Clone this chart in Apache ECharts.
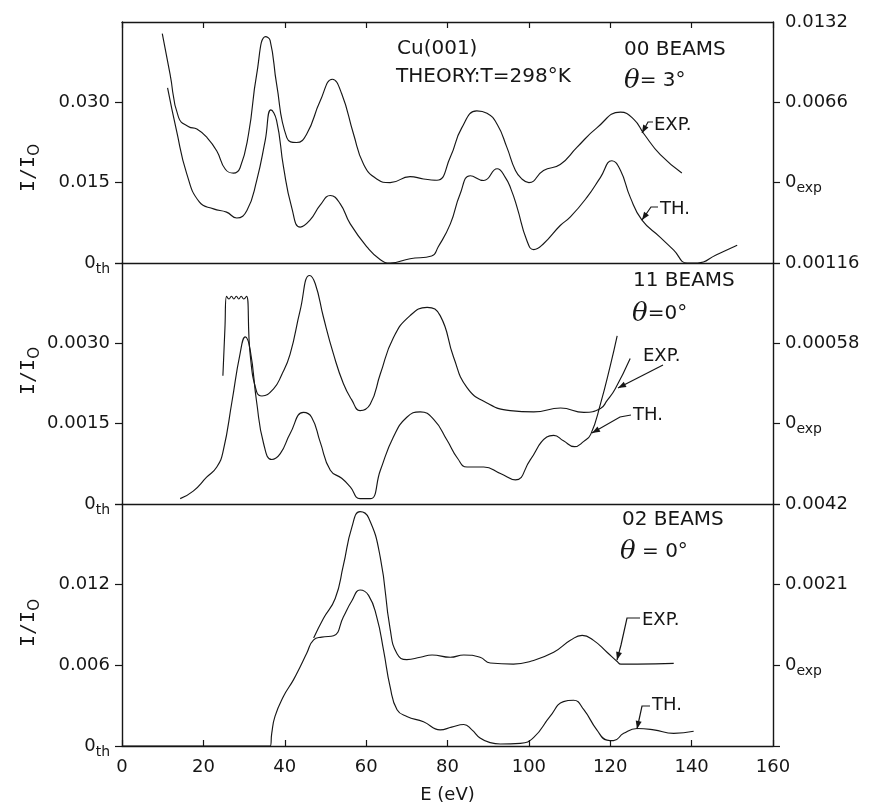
<!DOCTYPE html>
<html><head><meta charset="utf-8">
<script src="https://cdn.jsdelivr.net/npm/echarts@6/dist/echarts.min.js"></script>
<style>html,body{margin:0;padding:0;background:#fff}#c{width:871px;height:808px}</style>
</head><body><div id="c"></div>
<script>
// ---------- DATA ----------
const xTicks = ['0','20','40','60','80','100','120','140','160'];

// 00 beams, theta = 3 deg
const th00E = [11.2,13.4,15.9,19.0,22.5,25.7,28.2,30.7,33.1,35.2,36.6,38.0,39.7,41.7,43.8,46.2,48.7,51.2,53.6,56.1,60.2,63.5,65.9,70.8,76.1,77.7,80.7,83.1,85.6,88.9,92.2,94.2,95.6,97.1,99.5,101.2,103.6,107.7,110.2,114.3,117.6,120.4,122.5,124.9,127.8,132.3,135.6,138.9,141.5,146.0,151.2];
const th00V = [0.0327,0.0247,0.0167,0.0114,0.0101,0.0095,0.0084,0.0098,0.0154,0.0229,0.0286,0.0266,0.0179,0.0104,0.0067,0.0080,0.0108,0.0126,0.0111,0.0073,0.0030,0.0006,0.0000,0.0008,0.0013,0.0030,0.0073,0.0129,0.0163,0.0154,0.0176,0.0160,0.0138,0.0104,0.0042,0.0025,0.0036,0.0070,0.0086,0.0123,0.0160,0.0191,0.0173,0.0123,0.0080,0.0048,0.0024,0.0000,0.0000,0.0015,0.0033];
const exp00E = [9.9,11.8,13.9,16.4,18.4,20.9,23.3,25.4,27.4,29.0,31.1,33.1,35.3,36.4,38.0,40.5,42.9,45.4,48.7,51.7,54.0,56.9,59.4,62.6,65.9,70.8,74.1,77.4,80.7,83.5,87.2,89.7,92.2,94.6,96.7,98.3,100.0,103.6,107.7,111.8,116.7,122.5,125.8,128.3,132.3,137.6];
const exp00V = [0.01224,0.00894,0.00536,0.0046,0.0044,0.0037,0.0026,0.0011,0.00078,0.0012,0.0040,0.0089,0.0120,0.0117,0.0081,0.0037,0.0033,0.0040,0.0067,0.0085,0.0073,0.0040,0.0015,0.0003,0.0000,0.0005,0.0003,0.0002,0.0021,0.0045,0.0059,0.0057,0.0048,0.0029,0.0010,0.0003,0.0000,0.0010,0.0015,0.0029,0.0045,0.0058,0.0052,0.0040,0.0023,0.0008];

// 11 beams, theta = 0 deg
const th11E = [14.3,17.5,20.8,23.3,24.9,27.0,29.0,30.3,31.5,33.1,34.8,36.8,38.9,41.3,44.6,46.6,48.7,51.2,54.0,56.1,58.5,61.0,63.5,66.7,70.0,73.3,76.6,79.9,82.5,84.8,88.9,93.0,96.7,100.3,104.4,106.1,108.5,111.2,113.5,115.2,117.6,120.0,121.7];
const th11V = [0.0001,0.00024,0.00050,0.00069,0.0010,0.0019,0.0028,0.00312,0.00288,0.00190,0.00113,0.00083,0.00094,0.00131,0.00171,0.00162,0.00116,0.00063,0.00048,0.00032,0.0001,0.0001,0.00063,0.00125,0.00162,0.00172,0.00158,0.00119,0.00085,0.00069,0.00069,0.00057,0.00045,0.00082,0.00125,0.00128,0.00118,0.00107,0.00117,0.00130,0.00187,0.00258,0.00314];
const exp11E = [24.8,25.3,25.7,26.3,26.9,27.5,28.1,28.7,29.3,29.9,30.6,31.5,33.1,34.4,37.2,39.2,41.3,43.8,46.1,47.5,49.5,52.0,54.4,56.5,58.5,61.0,63.5,66.7,70.8,75.0,78.2,81.5,84.8,89.7,95.4,101.2,107.8,113.5,117.6,119.2,121.2,124.9];
const exp11V = [0.000346,0.00069,0.00092,0.00090,0.00092,0.00090,0.00092,0.00090,0.00092,0.00090,0.00092,0.00050,0.00023,0.00020,0.00025,0.00035,0.00050,0.00082,0.00107,0.00101,0.00077,0.00050,0.00029,0.00017,0.000094,0.00014,0.00036,0.00062,0.00078,0.00084,0.00078,0.00048,0.00026,0.00015,0.000094,0.000085,0.000113,0.000082,0.00011,0.000166,0.00025,0.00047];

// 02 beams, theta = 0 deg
const th02E = [0,36.4,36.8,37.6,39.7,42.1,43.8,45.4,47.1,49.1,52.0,54.4,56.5,58.5,60.6,62.6,64.3,65.9,67.6,70.0,74.1,78.2,81.0,84.0,86.0,88.0,90.5,93.0,97.9,101.2,105.2,108.5,111.0,113.5,116.7,119.2,120.8,123.3,126.6,130.7,135.6,140.5];
const th02V = [0,0,0.00094,0.0022,0.0037,0.0049,0.0059,0.0069,0.0079,0.0081,0.0082,0.0096,0.0108,0.0116,0.0112,0.0096,0.0071,0.0044,0.0027,0.0022,0.0018,0.0012,0.0014,0.0016,0.0012,0.0006,0.00025,0.00015,0.0002,0.00064,0.0022,0.0033,0.0034,0.0027,0.0012,0.00044,0.0004,0.00094,0.0013,0.0012,0.00094,0.0011];
const exp02E = [47.1,49.5,52.4,54.4,56.5,58.5,60.6,63.5,65.9,67.6,70.0,73.3,76.2,80.7,84.0,88.0,90.5,96.2,100.3,106.1,110.2,113.1,115.9,119.2,121.7,122.6,126.6,135.6];
const exp02V = [0.00071,0.00122,0.00174,0.0026,0.0036,0.0040,0.00384,0.0028,0.00095,0.0003,0.00015,0.00021,0.00027,0.00021,0.00027,0.00021,0.00006,0.00003,0.0001,0.00034,0.00065,0.00078,0.00065,0.00034,0.0001,0.00003,0.00003,0.00005];

// tick labels ('text|subscript')
const thTicks00 = ['0|th','0.015','0.030',''];
const expTicks00 = ['','0|exp','0.0066','0.0132'];
const thTicks11 = ['0|th','0.0015','0.0030',''];
const expTicks11 = ['','0|exp','0.00058','0.00116'];
const thTicks02 = ['0|th','0.006','0.012',''];
const expTicks02 = ['','0|exp','0.0021','0.0042'];

// ---------- CHART ----------
const INK = '#161616';
const FONT = 'DejaVu Sans';
const zip = (a, b) => a.map((x, i) => [x, b[i]]);
const richLbl = {
  a: {fontSize: 18, fontFamily: FONT, color: INK},
  s: {fontSize: 14, fontFamily: FONT, color: INK, verticalAlign: 'bottom', padding: [12, 0, 0, 0]}
};
const fmt = arr => (v, i) => {
  const t = arr[i] || '';
  if (t.indexOf('|') >= 0) { const p = t.split('|'); return '{a|' + p[0] + '}{s|' + p[1] + '}'; }
  return t === '' ? '' : '{a|' + t + '}';
};
const gridL = 122, gridW = 651;
const grids = [
  {left: gridL, width: gridW, top: 22, height: 241},
  {left: gridL, width: gridW, top: 263, height: 241},
  {left: gridL, width: gridW, top: 504, height: 242}
].map(g => Object.assign(g, {containLabel: false, outerBoundsMode: 'none'}));

const axLine = {show: true, onZero: false, lineStyle: {color: INK, width: 1.4}};
function xAx(grid, pos, ticks, labels) {
  return {
    type: 'value', gridIndex: grid, position: pos, min: 0, max: 160, interval: 20,
    axisLine: axLine, splitLine: {show: false},
    axisTick: {show: ticks, inside: true, length: 6, lineStyle: {color: INK, width: 1.2}},
    axisLabel: {show: labels, margin: 12, fontSize: 18, fontFamily: FONT, color: INK,
      formatter: (v, i) => xTicks[i]}
  };
}
const xAxes = [xAx(0, 'bottom', false, false), xAx(0, 'top', true, false), xAx(1, 'bottom', false, false), xAx(2, 'bottom', true, true)];
Object.assign(xAxes[3], {name: 'E (eV)', nameLocation: 'middle', nameGap: 40,
  nameTextStyle: {fontSize: 18, fontFamily: FONT, color: INK}});

function yAx(grid, pos, min, max, interval, labels, tickVals) {
  const tick = {show: true, inside: false, length: 7, lineStyle: {color: INK, width: 1.2}};
  if (tickVals) tick.customValues = tickVals;
  return {
    type: 'value', gridIndex: grid, position: pos, min: min, max: max, interval: interval,
    axisLine: axLine, splitLine: {show: false},
    axisTick: tick,
    axisLabel: {show: true, margin: 12, showMinLabel: true, showMaxLabel: true,
      formatter: fmt(labels), rich: richLbl}
  };
}
const yAxes = [
  yAx(0, 'left', 0, 0.045, 0.015, thTicks00, [0, 0.015, 0.03]),
  yAx(0, 'right', -0.0066, 0.0132, 0.0066, expTicks00, [-0.0066, 0, 0.0066]),
  yAx(1, 'left', 0, 0.0045, 0.0015, thTicks11),
  yAx(1, 'right', -0.00058, 0.00116, 0.00058, expTicks11),
  yAx(2, 'left', 0, 0.018, 0.006, thTicks02),
  yAx(2, 'right', -0.0021, 0.0042, 0.0021, expTicks02)
];

function line(name, xi, yi, E, V) {
  return {name: name, type: 'line', xAxisIndex: xi, yAxisIndex: yi, data: zip(E, V),
    showSymbol: false, smooth: 0.5, clip: true,
    lineStyle: {color: INK, width: 1.15}, silent: true, animation: false};
}
const series = [
  line('00 TH', 0, 0, th00E, th00V),
  line('00 EXP', 0, 1, exp00E, exp00V),
  line('11 TH', 2, 2, th11E, th11V),
  line('11 EXP', 2, 3, exp11E, exp11V),
  line('02 TH', 3, 4, th02E, th02V),
  line('02 EXP', 3, 5, exp02E, exp02V)
];

// ---------- annotations ----------
function txt(x, y, text, size, align, rich) {
  const st = {text: text, x: 0, y: 0, fill: INK, font: size + 'px "' + FONT + '"', align: align || 'left', verticalAlign: 'middle'};
  if (rich) st.rich = rich;
  return {type: 'text', x: x, y: y, style: st, silent: true};
}
function arrow(pts) {
  const n = pts.length, a = pts[n - 2], b = pts[n - 1];
  const ang = Math.atan2(b[1] - a[1], b[0] - a[0]);
  const L = 8, W = 3;
  const bx = b[0] - L * Math.cos(ang), by = b[1] - L * Math.sin(ang);
  const px = -Math.sin(ang) * W, py = Math.cos(ang) * W;
  return [
    {type: 'polyline', shape: {points: pts}, style: {stroke: INK, lineWidth: 1.2, fill: null}, silent: true},
    {type: 'polygon', shape: {points: [b, [bx + px, by + py], [bx - px, by - py]]}, style: {fill: INK}, silent: true}
  ];
}
const thetaRich = {
  t: {fontSize: 26, fontFamily: 'DejaVu Serif', fontStyle: 'italic', color: INK},
  n: {fontSize: 20, fontFamily: FONT, color: INK}
};
const ylabRich = {
  a: {fontSize: 20, fontFamily: 'DejaVu Sans Mono', color: INK},
  s: {fontSize: 15, fontFamily: FONT, color: INK, verticalAlign: 'bottom', padding: [12, 0, 0, 0]}
};
function ylab(y) {
  const t = txt(29, y, '{a|I/I}{s|O}', 20, 'center', ylabRich);
  t.rotation = Math.PI / 2;
  return t;
}
const graphics = [
  txt(397, 49, 'Cu(001)', 20),
  txt(396, 77, 'THEORY:T=298°K', 20),
  txt(624, 50, '00 BEAMS', 20),
  txt(624, 81, '{t|θ}{n|= 3°}', 20, 'left', thetaRich),
  txt(654, 125, 'EXP.', 18),
  ...arrow([[653, 122], [648, 122], [642, 133]]),
  txt(660, 209, 'TH.', 18),
  ...arrow([[658, 207], [651, 207], [642, 220]]),

  txt(633, 281, '11 BEAMS', 20),
  txt(632, 314, '{t|θ}{n|=0°}', 20, 'left', thetaRich),
  txt(643, 356, 'EXP.', 18),
  ...arrow([[663, 365], [618, 388]]),
  txt(633, 415, 'TH.', 18),
  ...arrow([[631, 415], [620, 417], [592, 433]]),

  txt(622, 520, '02 BEAMS', 20),
  txt(620, 552, '{t|θ}{n| = 0°}', 20, 'left', thetaRich),
  txt(642, 620, 'EXP.', 18),
  ...arrow([[640, 618], [627, 618], [621, 645], [617, 660]]),
  txt(652, 705, 'TH.', 18),
  ...arrow([[650, 706], [642, 706], [637, 729]]),

  ylab(168), ylab(371), ylab(623)
];

const chart = echarts.init(document.getElementById('c'), null, {renderer: 'canvas'});
chart.setOption({
  animation: false,
  backgroundColor: '#ffffff',
  textStyle: {fontFamily: FONT, color: INK},
  grid: grids,
  xAxis: xAxes,
  yAxis: yAxes,
  series: series,
  graphic: graphics
});
</script></body></html>
